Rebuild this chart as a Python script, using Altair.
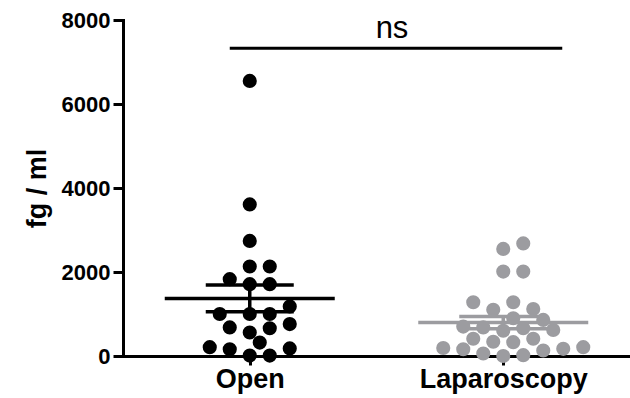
import altair as alt
import pandas as pd
import numpy as np

# ---- data ----
groups = ["Open", "Laparoscopy"]
open_vals = [6550, 3610, 2740, 2130, 2130, 1830, 1710, 1710, 1180, 1000, 1000, 1000,
             760, 680, 660, 560, 320, 210, 180, 160, 10, 10]
lap_vals = [2680, 2550, 2010, 2010, 1280, 1280, 1120, 1100, 900, 860, 700, 680,
            660, 620, 600, 410, 410, 340, 330, 210, 190, 170, 160, 130, 60, 20, 0]
y_ticks = [0, 2000, 4000, 6000, 8000]
y_title = "fg / ml"
sig_label = "ns"
sig_value = 7330
colors = ["#000000", "#9c9ca0"]

# ---- layout constants ----
W, H = 507, 336
XDOM = [0, 4]
YDOM = [0, 8000]
px_x = W / (XDOM[1] - XDOM[0])
px_y = H / (YDOM[1] - YDOM[0])
centers = {g: 1 + 2 * i for i, g in enumerate(groups)}
DIAM = 14.0
STEP = 10.0


def swarm(values, center):
    """Greedy beeswarm in pixel space, returns x in data units."""
    order = np.argsort(values, kind="stable")
    placed = []
    xs = [0.0] * len(values)
    cands = [0.0]
    for k in range(1, 30):
        cands += [k * STEP, -k * STEP]
    for idx in order:
        ypx = values[idx] * px_y
        for c in cands:
            ok = all((c - px) ** 2 + (ypx - py) ** 2 >= DIAM ** 2 for px, py in placed)
            if ok:
                placed.append((c, ypx))
                xs[idx] = center + c / px_x
                break
    return xs


rows = []
stats = []
for g, vals in zip(groups, [open_vals, lap_vals]):
    xs = swarm(vals, centers[g])
    for v, x in zip(vals, xs):
        rows.append({"group": g, "value": v, "x": x})
    arr = np.array(vals, dtype=float)
    m = arr.mean()
    se = arr.std(ddof=1) / np.sqrt(len(arr))
    c = centers[g]
    stats.append({"group": g, "mean": m, "lo": m - se, "hi": m + se,
                  "c": c, "m1": c - 85 / px_x, "m2": c + 85 / px_x,
                  "s1": c - 44 / px_x, "s2": c + 44 / px_x})

pts = pd.DataFrame(rows)
st = pd.DataFrame(stats)

color = alt.Color("group:N", scale=alt.Scale(domain=groups, range=colors), legend=None)
xscale = alt.Scale(domain=XDOM, nice=False, zero=False)
yscale = alt.Scale(domain=YDOM, nice=False)

label_expr = "{" + ", ".join(f"'{centers[g]}': '{g}'" for g in groups) + "}[datum.value]"

x_axis = alt.Axis(values=[centers[g] for g in groups], labelExpr=label_expr, title=None,
                  grid=False, domainWidth=3, domainColor="black", tickWidth=3,
                  tickColor="black", tickSize=9, labelFont="Liberation Sans",
                  labelFontWeight="bold", labelFontSize=27, labelColor="black",
                  labelPadding=1, domainCap="square")
y_axis = alt.Axis(values=y_ticks, format="d", title=y_title, grid=False,
                  domainWidth=3, domainColor="black", tickWidth=3, tickColor="black",
                  tickSize=10, labelFont="Liberation Sans", labelFontWeight="bold",
                  labelFontSize=22, labelColor="black", labelPadding=3,
                  titleFont="Liberation Sans", titleFontWeight="bold", titleFontSize=27,
                  titleColor="black", titlePadding=10, domainCap="square")

base_pts = alt.Chart(pts).mark_circle(size=200, opacity=1).encode(
    x=alt.X("x:Q", scale=xscale, axis=x_axis),
    y=alt.Y("value:Q", scale=yscale, axis=y_axis),
    color=color,
)

mean_rule = alt.Chart(st).mark_rule(strokeWidth=3.5).encode(
    x="m1:Q", x2="m2:Q", y="mean:Q", color=color)
lo_rule = alt.Chart(st).mark_rule(strokeWidth=3.5).encode(
    x="s1:Q", x2="s2:Q", y="lo:Q", color=color)
hi_rule = alt.Chart(st).mark_rule(strokeWidth=3.5).encode(
    x="s1:Q", x2="s2:Q", y="hi:Q", color=color)
vert = alt.Chart(st).mark_rule(strokeWidth=3.5).encode(
    x="c:Q", y="lo:Q", y2="hi:Q", color=color)

sig_df = pd.DataFrame([{
    "x1": centers[groups[0]] - 20 / px_x,
    "x2": centers[groups[1]] + 59 / px_x,
    "y": sig_value, "label": sig_label,
}])
sig_df["xm"] = (sig_df["x1"] + sig_df["x2"]) / 2 - 4 / px_x

sig_line = alt.Chart(sig_df).mark_rule(strokeWidth=3, color="black").encode(
    x="x1:Q", x2="x2:Q", y="y:Q")
sig_text = alt.Chart(sig_df).mark_text(
    font="Liberation Sans", fontSize=31, color="black", baseline="bottom", dy=-3
).encode(x="xm:Q", y="y:Q", text="label:N")

chart = alt.layer(base_pts, mean_rule, lo_rule, hi_rule, vert, sig_line, sig_text).properties(
    width=W, height=H,
    autosize=alt.AutoSizeParams(type="none"),
    padding={"left": 123, "top": 20, "right": 0, "bottom": 42},
    background="white",
).configure_view(stroke=None)

chart.save("out.html", embed_options={"renderer": "svg", "actions": False})
